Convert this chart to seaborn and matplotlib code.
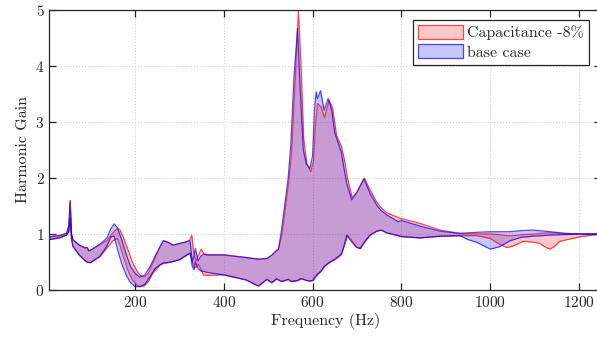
import numpy as np
import pandas as pd
import matplotlib
matplotlib.use("Agg")
import matplotlib.pyplot as plt
import seaborn as sns
from matplotlib.patches import Patch

# base case band (blue)
base_freq = [7, 30, 46, 51, 54, 57, 60, 75, 88, 92,
             96, 100, 121, 136, 146, 153, 160, 170, 181, 190,
             200, 211, 222, 234, 245, 256, 264, 275, 286, 300,
             316, 324, 329, 333, 336, 342, 348, 355, 365, 400,
             450, 478, 497, 508, 519, 523, 530, 545, 551, 558,
             566, 572, 579, 586, 594, 600, 604, 608, 611, 618,
             626, 635, 643, 650, 658, 665, 670, 677, 688, 699,
             707, 716, 729, 744, 754, 767, 793, 800, 842, 887,
             932, 950, 970, 1000, 1020, 1045, 1070, 1097, 1135, 1172,
             1210, 1250]
base_hi = [0.95, 0.97, 1.01, 1.15, 1.60, 1.00, 0.90, 0.80, 0.75, 0.76,
           0.70, 0.71, 0.82, 0.92, 1.10, 1.18, 1.12, 0.90, 0.62, 0.42,
           0.30, 0.23, 0.27, 0.42, 0.60, 0.77, 0.88, 0.85, 0.80, 0.83,
           0.86, 0.88, 0.50, 0.62, 0.74, 0.52, 0.60, 0.64, 0.63, 0.63,
           0.58, 0.55, 0.56, 0.62, 0.71, 0.73, 1.07, 2.00, 2.60, 3.80,
           4.67, 3.60, 2.50, 2.25, 2.17, 2.40, 3.20, 3.54, 3.42, 3.56,
           3.21, 3.42, 3.21, 2.80, 2.62, 2.45, 2.20, 1.90, 1.61, 1.73,
           1.85, 1.98, 1.73, 1.52, 1.42, 1.34, 1.22, 1.24, 1.14, 1.05,
           1.01, 1.02, 1.03, 1.04, 1.04, 1.04, 1.06, 1.07, 1.04, 1.01,
           1.00, 1.00]
base_lo = [0.90, 0.93, 0.98, 1.05, 1.28, 0.92, 0.78, 0.62, 0.52, 0.50,
           0.49, 0.49, 0.60, 0.78, 0.95, 0.96, 0.74, 0.47, 0.25, 0.13,
           0.06, 0.06, 0.10, 0.24, 0.38, 0.45, 0.48, 0.49, 0.51, 0.54,
           0.62, 0.66, 0.42, 0.36, 0.50, 0.38, 0.34, 0.33, 0.31, 0.27,
           0.18, 0.07, 0.19, 0.13, 0.20, 0.18, 0.15, 0.19, 0.15, 0.16,
           0.17, 0.20, 0.19, 0.17, 0.16, 0.17, 0.22, 0.26, 0.29, 0.33,
           0.42, 0.48, 0.52, 0.55, 0.60, 0.65, 0.77, 0.98, 0.86, 0.76,
           0.74, 0.85, 0.98, 1.05, 1.07, 1.02, 0.97, 0.95, 0.93, 0.96,
           0.97, 0.90, 0.85, 0.73, 0.77, 0.88, 0.94, 0.96, 0.98, 0.99,
           1.00, 1.00]

# capacitance -8% band (red)
cap_freq = [7, 30, 46, 51, 54, 57, 60, 75, 88, 92,
            96, 100, 121, 136, 150, 160, 166, 175, 185, 195,
            205, 212, 220, 230, 240, 256, 264, 275, 286, 300,
            316, 324, 328, 332, 337, 343, 349, 354, 362, 400,
            450, 478, 497, 508, 519, 523, 531, 546, 553, 561,
            568, 574, 580, 587, 596, 602, 606, 611, 619, 627,
            637, 645, 654, 665, 671, 679, 689, 700, 708, 716,
            730, 745, 755, 767, 797, 842, 887, 932, 970, 1000,
            1020, 1037, 1050, 1075, 1100, 1112, 1125, 1135, 1145, 1157,
            1202, 1250]
cap_hi = [0.95, 0.97, 1.01, 1.15, 1.58, 1.00, 0.90, 0.80, 0.75, 0.76,
          0.70, 0.71, 0.81, 0.88, 1.02, 1.10, 1.08, 0.92, 0.70, 0.48,
          0.33, 0.26, 0.23, 0.30, 0.48, 0.76, 0.88, 0.85, 0.80, 0.83,
          0.86, 0.90, 0.98, 0.68, 0.52, 0.62, 0.73, 0.66, 0.62, 0.62,
          0.58, 0.55, 0.56, 0.62, 0.70, 0.72, 1.00, 1.90, 2.50, 3.80,
          5.00, 4.00, 2.70, 2.25, 2.11, 2.30, 2.90, 3.33, 3.27, 3.08,
          3.39, 3.25, 2.76, 2.56, 2.35, 1.98, 1.65, 1.75, 1.88, 2.00,
          1.78, 1.56, 1.46, 1.38, 1.28, 1.19, 1.07, 1.01, 1.00, 1.00,
          0.99, 0.97, 0.97, 0.99, 1.00, 1.01, 1.02, 1.02, 1.02, 1.01,
          1.00, 1.00]
cap_lo = [0.90, 0.93, 0.98, 1.05, 1.26, 0.92, 0.78, 0.62, 0.52, 0.50,
          0.49, 0.49, 0.60, 0.74, 0.88, 0.92, 0.80, 0.56, 0.33, 0.17,
          0.08, 0.06, 0.07, 0.15, 0.30, 0.44, 0.48, 0.49, 0.51, 0.54,
          0.62, 0.66, 0.55, 0.42, 0.40, 0.46, 0.36, 0.27, 0.26, 0.27,
          0.18, 0.07, 0.19, 0.13, 0.20, 0.18, 0.15, 0.19, 0.15, 0.16,
          0.17, 0.20, 0.19, 0.17, 0.16, 0.17, 0.22, 0.27, 0.33, 0.42,
          0.48, 0.52, 0.56, 0.63, 0.78, 0.97, 0.87, 0.76, 0.74, 0.84,
          0.98, 1.05, 1.07, 1.02, 0.96, 0.93, 0.96, 0.97, 0.97, 0.92,
          0.82, 0.76, 0.78, 0.87, 0.85, 0.83, 0.76, 0.73, 0.78, 0.87,
          0.95, 1.00]

x_ticks = [200, 400, 600, 800, 1000, 1200]
y_ticks = [0, 1, 2, 3, 4, 5]

sns.set_theme(style="white")
plt.rcParams['font.family'] = ['cmr10', 'DejaVu Serif']
plt.rcParams['axes.formatter.use_mathtext'] = True
plt.rcParams['axes.unicode_minus'] = False

df_base = pd.DataFrame({'freq': base_freq, 'lo': base_lo, 'hi': base_hi})
df_cap = pd.DataFrame({'freq': cap_freq, 'lo': cap_lo, 'hi': cap_hi})

fig = plt.figure(figsize=(5.97, 3.41), dpi=100)
ax = fig.add_axes([0.0826, 0.1496, 0.9245, 0.8211])

bands = [(df_cap, '#ff0000', 'Capacitance -8%'), (df_base, '#0000ff', 'base case')]
for d, c, lab in bands:
    ax.fill_between(d['freq'], d['lo'], d['hi'], color=c, alpha=0.22, lw=0)
    sns.lineplot(data=d, x='freq', y='hi', color=c, alpha=0.7, lw=0.9, ax=ax,
                 estimator=None, sort=False)
    sns.lineplot(data=d, x='freq', y='lo', color=c, alpha=0.7, lw=0.9, ax=ax,
                 estimator=None, sort=False)

ax.set_xlim(7, 1250)
ax.set_ylim(0, 5)
ax.set_xticks(x_ticks)
ax.set_yticks(y_ticks)
ax.grid(True, ls=':', color='#d0d0d0', lw=0.8)
ax.tick_params(direction='in', length=5, width=0.9, color='#262626',
               labelsize=11, labelcolor='#262626',
               top=True, right=True, bottom=True, left=True)
for s in ax.spines.values():
    s.set_color('#262626')
    s.set_linewidth(0.9)
ax.set_xlabel('Frequency (Hz)', fontsize=11.5, color='#262626', labelpad=2)
ax.set_ylabel('Harmonic Gain', fontsize=11.5, color='#262626', labelpad=4)

handles = [Patch(facecolor=(1, 0, 0, 0.22), edgecolor=(1, 0, 0, 0.7), lw=0.9),
           Patch(facecolor=(0, 0, 1, 0.22), edgecolor=(0, 0, 1, 0.7), lw=0.9)]
leg = ax.legend(handles, ['Capacitance -8%', 'base case'], loc='upper left',
                bbox_to_anchor=(0.659, 0.965), fontsize=11.5, frameon=True,
                fancybox=False, handlelength=2.8, handleheight=1.0,
                borderpad=0.3, labelspacing=0.25, handletextpad=0.3,
                borderaxespad=0)
leg.get_frame().set_edgecolor('#262626')
leg.get_frame().set_linewidth(0.9)
leg.get_frame().set_alpha(1)

fig.savefig('out.png', dpi=100)
